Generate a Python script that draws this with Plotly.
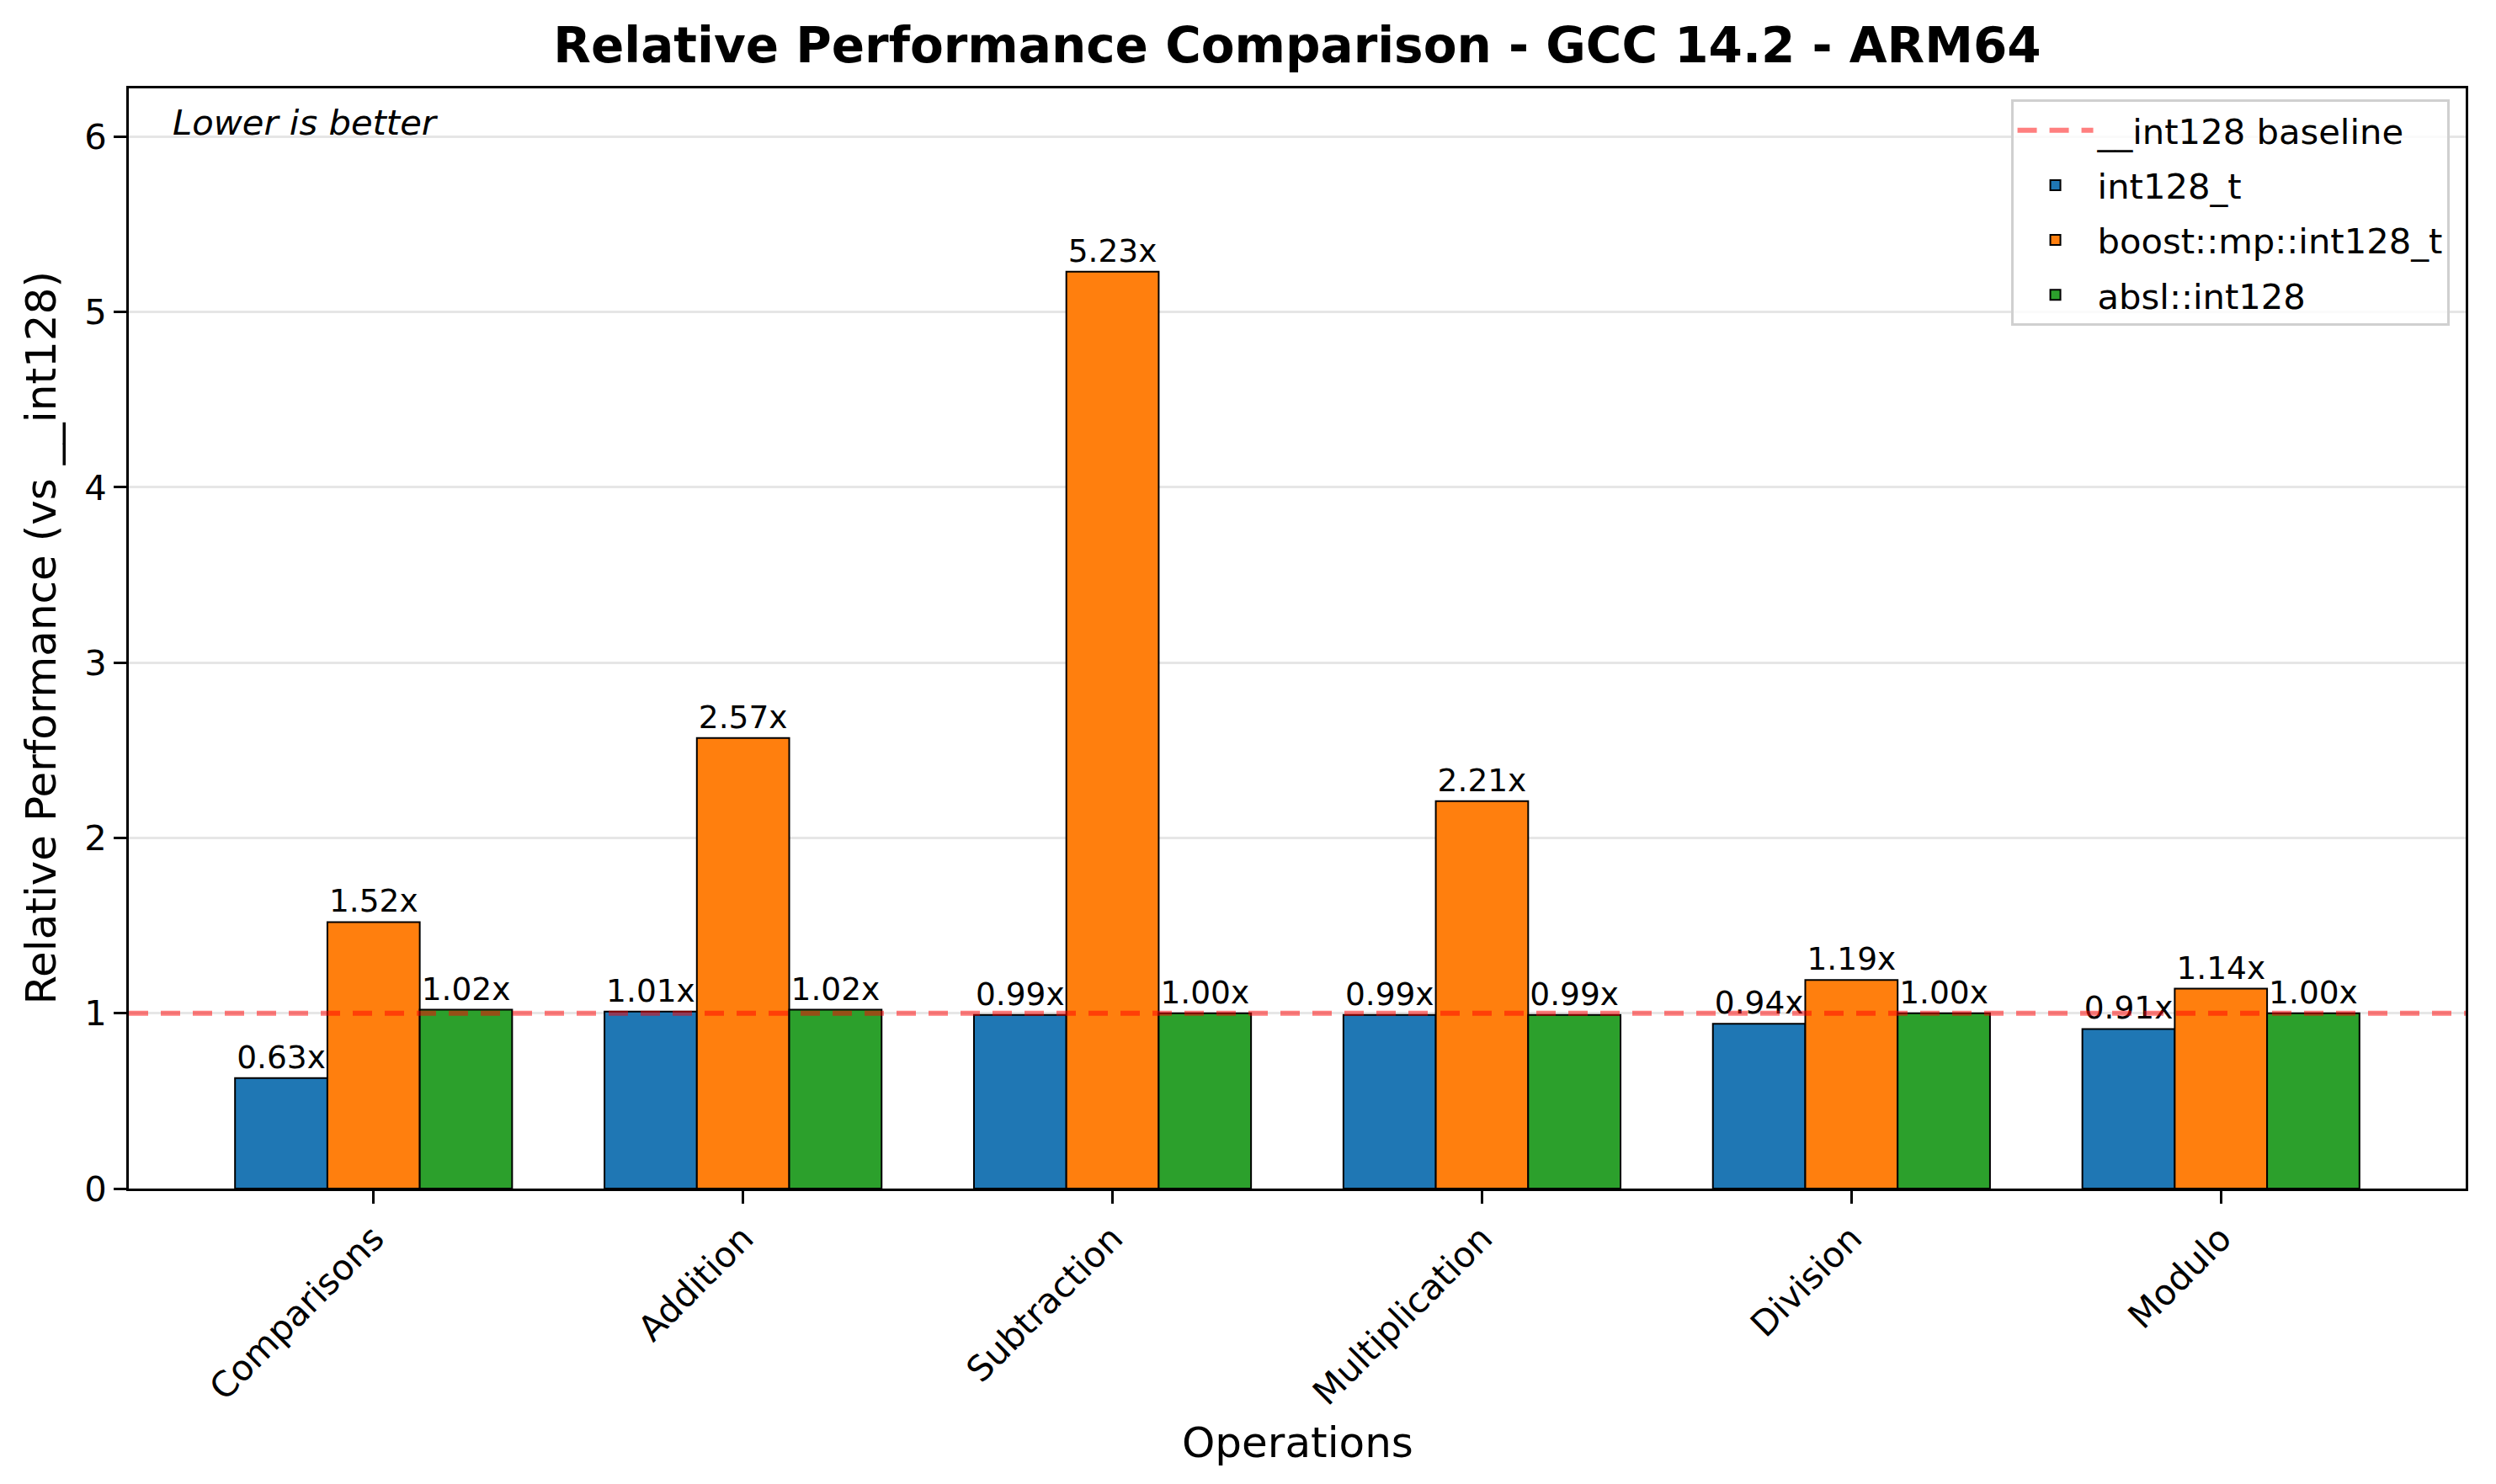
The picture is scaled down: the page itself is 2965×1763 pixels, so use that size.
import plotly.graph_objects as go

categories = ["Comparisons", "Addition", "Subtraction", "Multiplication", "Division", "Modulo"]
int128_t = [0.63, 1.01, 0.99, 0.99, 0.94, 0.91]
boost_mp_int128_t = [1.52, 2.57, 5.23, 2.21, 1.19, 1.14]
absl_int128 = [1.02, 1.02, 1.00, 0.99, 1.00, 1.00]
baseline = 1.0
y_ticks = [0, 1, 2, 3, 4, 5, 6]

series = [
    ("int128_t", int128_t, "#1f77b4"),
    ("boost::mp::int128_t", boost_mp_int128_t, "#ff7f0e"),
    ("absl::int128", absl_int128, "#2ca02c"),
]

FONT = "DejaVu Sans"
W, H = 2965, 1763
ML, MR, MT, MB = 145, 44, 97, 359

fig = go.Figure()

# legend entry for baseline
fig.add_trace(go.Scatter(
    x=[None], y=[None], mode="lines", name="__int128 baseline",
    legendgroup="g0",
    line=dict(color="rgba(255,0,0,0.5)", width=6, dash="23px,15px"),
))

for i, (name, vals, color) in enumerate(series):
    fig.add_trace(go.Bar(
        x=categories, y=vals, name=name, legendgroup=f"g{i+1}",
        marker=dict(color=color, line=dict(color="black", width=2)),
        text=[f"{v:.2f}x" for v in vals],
        textposition="outside",
        textfont=dict(family=FONT, size=37.5, color="black"),
        constraintext="none",
        cliponaxis=False,
    ))

fig.add_shape(
    type="line", xref="x domain", x0=0, x1=1, yref="y", y0=baseline, y1=baseline,
    line=dict(color="rgba(255,0,0,0.5)", width=6, dash="23px,15px"),
    layer="above",
)

n = len(categories)
ymax = max(boost_mp_int128_t) * 1.2

fig.update_layout(
    width=W, height=H,
    margin=dict(l=ML, r=MR, t=MT, b=MB, autoexpand=False),
    paper_bgcolor="white", plot_bgcolor="white",
    font=dict(family=FONT, size=41.7, color="black"),
    barmode="group", bargap=0.25, bargroupgap=0,
    title=dict(
        text="<b>Relative Performance Comparison - GCC 14.2 - ARM64</b>",
        x=(ML + (W - ML - MR) / 2) / W, xanchor="center",
        y=1 - 46 / H, yanchor="middle", yref="container",
        font=dict(family=FONT, size=58, color="black"),
    ),
    legend=dict(
        x=0.993, y=0.99, xanchor="right", yanchor="top",
        bgcolor="rgba(255,255,255,0.8)", bordercolor="#d0d0d0", borderwidth=3,
        font=dict(family=FONT, size=41.7),
        traceorder="grouped", tracegroupgap=8, itemwidth=90,
    ),
    showlegend=True,
)

fig.update_xaxes(
    type="category",
    range=[-0.6625, n - 1 + 0.6625],
    showline=True, linecolor="black", linewidth=3, mirror=True,
    ticks="outside", ticklen=15, tickwidth=3, tickcolor="black",
    tickangle=-45, tickfont=dict(family=FONT, size=41.7),
    showgrid=False, zeroline=False,
)
fig.update_yaxes(
    range=[0, ymax],
    tickvals=y_ticks, ticktext=[str(t) for t in y_ticks],
    showline=True, linecolor="black", linewidth=3, mirror=True,
    ticks="outside", ticklen=15, tickwidth=3, tickcolor="black",
    tickfont=dict(family=FONT, size=41.7),
    showgrid=True, gridcolor="#e6e6e6", gridwidth=3,
    zeroline=False,
)

fig.add_annotation(
    text="Lower is better", xref="paper", yref="paper", x=0.018, y=0.989,
    xanchor="left", yanchor="top", showarrow=False,
    font=dict(family=FONT, size=41.7, style="italic"),
)
fig.add_annotation(
    text="Operations", xref="paper", yref="paper", x=0.5, y=-(1706 - (H - MB)) / (H - MT - MB),
    xanchor="center", yanchor="middle", showarrow=False,
    font=dict(family=FONT, size=50),
)
fig.add_annotation(
    text="Relative Performance (vs __int128)", xref="paper", yref="paper",
    x=(40 - ML) / (W - ML - MR), y=0.5, xanchor="center", yanchor="middle",
    textangle=-90, showarrow=False,
    font=dict(family=FONT, size=50),
)

fig.write_html("out.html")
